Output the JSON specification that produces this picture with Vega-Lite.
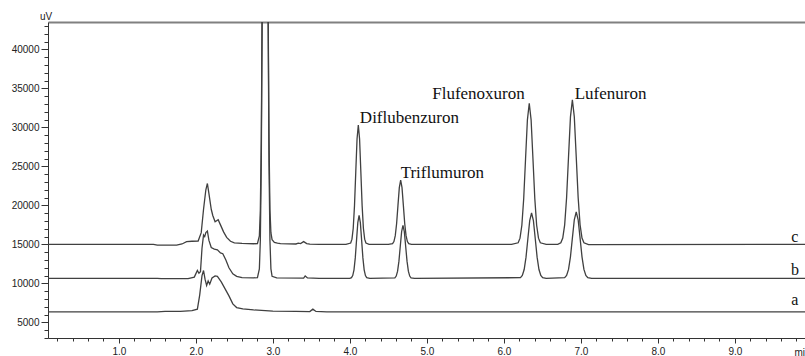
{
  "$schema": "https://vega.github.io/schema/vega-lite/v6.json",
  "autosize": {"type": "none"},
  "padding": {"left": 48, "top": 22, "right": 0, "bottom": 18},
  "width": 760,
  "height": 316,
  "background": "white",
  "config": {
    "view": {"stroke": null},
    "axis": {"labelFont": "Liberation Sans", "titleFont": "Liberation Sans", "domainColor": "#333", "tickColor": "#333", "labelColor": "#222", "titleColor": "#222", "grid": false, "titleFontWeight": "normal"}
  },
  "datasets": {
    "traces": [
      {"trace":"c","t":0.08,"v":15000},{"trace":"c","t":1.0,"v":15000},{"trace":"c","t":1.45,"v":14990},{"trace":"c","t":1.5,"v":14900},{"trace":"c","t":1.75,"v":14900},{"trace":"c","t":1.82,"v":15050},{"trace":"c","t":1.88,"v":15350},{"trace":"c","t":1.95,"v":15400},{"trace":"c","t":2.03,"v":15420},{"trace":"c","t":2.07,"v":16500},{"trace":"c","t":2.10,"v":19500},{"trace":"c","t":2.13,"v":22000},{"trace":"c","t":2.15,"v":22800},{"trace":"c","t":2.17,"v":21500},{"trace":"c","t":2.20,"v":19500},{"trace":"c","t":2.22,"v":18700},{"trace":"c","t":2.25,"v":17900},{"trace":"c","t":2.29,"v":18150},{"trace":"c","t":2.32,"v":17500},{"trace":"c","t":2.36,"v":16600},{"trace":"c","t":2.40,"v":15900},{"trace":"c","t":2.45,"v":15400},{"trace":"c","t":2.50,"v":15200},{"trace":"c","t":2.60,"v":15120},{"trace":"c","t":2.75,"v":15080},{"trace":"c","t":2.80,"v":15100},{"trace":"c","t":2.825,"v":16100},{"trace":"c","t":2.8375,"v":19400},{"trace":"c","t":2.85,"v":28500},{"trace":"c","t":2.8625,"v":47500},{"trace":"c","t":2.875,"v":75600},{"trace":"c","t":2.8875,"v":103000},{"trace":"c","t":2.90,"v":115000},{"trace":"c","t":2.9125,"v":103000},{"trace":"c","t":2.925,"v":75600},{"trace":"c","t":2.9375,"v":47500},{"trace":"c","t":2.95,"v":28500},{"trace":"c","t":2.9625,"v":19400},{"trace":"c","t":2.975,"v":16500},{"trace":"c","t":2.99,"v":15600},{"trace":"c","t":3.02,"v":15250},{"trace":"c","t":3.06,"v":15150},{"trace":"c","t":3.10,"v":15100},{"trace":"c","t":3.30,"v":15050},{"trace":"c","t":3.33,"v":15150},{"trace":"c","t":3.36,"v":15100},{"trace":"c","t":3.40,"v":15350},{"trace":"c","t":3.44,"v":15100},{"trace":"c","t":3.48,"v":15020},{"trace":"c","t":3.6,"v":15000},{"trace":"c","t":3.95,"v":15000},
      {"trace":"c","t":4.011,"v":15170},{"trace":"c","t":4.0275,"v":15672},{"trace":"c","t":4.044,"v":17070},{"trace":"c","t":4.0605,"v":19968},{"trace":"c","t":4.077,"v":24279},{"trace":"c","t":4.0935,"v":28502},{"trace":"c","t":4.11,"v":30300},{"trace":"c","t":4.1265,"v":28502},{"trace":"c","t":4.143,"v":24279},{"trace":"c","t":4.1595,"v":19968},{"trace":"c","t":4.176,"v":17070},{"trace":"c","t":4.1925,"v":15672},{"trace":"c","t":4.209,"v":15170},{"trace":"c","t":4.25,"v":15000},{"trace":"c","t":4.50,"v":15000},
      {"trace":"c","t":4.555,"v":15091},{"trace":"c","t":4.5725,"v":15361},{"trace":"c","t":4.59,"v":16114},{"trace":"c","t":4.6075,"v":17672},{"trace":"c","t":4.625,"v":19992},{"trace":"c","t":4.6425,"v":22263},{"trace":"c","t":4.66,"v":23230},{"trace":"c","t":4.6775,"v":22263},{"trace":"c","t":4.695,"v":19992},{"trace":"c","t":4.7125,"v":17672},{"trace":"c","t":4.73,"v":16114},{"trace":"c","t":4.7475,"v":15361},{"trace":"c","t":4.765,"v":15091},{"trace":"c","t":4.80,"v":15000},{"trace":"c","t":6.10,"v":15000},
      {"trace":"c","t":6.186,"v":15201},{"trace":"c","t":6.21,"v":15794},{"trace":"c","t":6.234,"v":17448},{"trace":"c","t":6.258,"v":20874},{"trace":"c","t":6.282,"v":25972},{"trace":"c","t":6.306,"v":30964},{"trace":"c","t":6.33,"v":33090},{"trace":"c","t":6.354,"v":30964},{"trace":"c","t":6.378,"v":25972},{"trace":"c","t":6.402,"v":20874},{"trace":"c","t":6.426,"v":17448},{"trace":"c","t":6.45,"v":15794},{"trace":"c","t":6.474,"v":15201},{"trace":"c","t":6.55,"v":15000},{"trace":"c","t":6.70,"v":15000},
      {"trace":"c","t":6.74,"v":15206},{"trace":"c","t":6.765,"v":15813},{"trace":"c","t":6.79,"v":17506},{"trace":"c","t":6.815,"v":21013},{"trace":"c","t":6.84,"v":26232},{"trace":"c","t":6.865,"v":31344},{"trace":"c","t":6.89,"v":33520},{"trace":"c","t":6.915,"v":31344},{"trace":"c","t":6.94,"v":26232},{"trace":"c","t":6.965,"v":21013},{"trace":"c","t":6.99,"v":17506},{"trace":"c","t":7.015,"v":15813},{"trace":"c","t":7.04,"v":15206},{"trace":"c","t":7.10,"v":14980},{"trace":"c","t":9.95,"v":15000},

      {"trace":"b","t":0.08,"v":10640},{"trace":"b","t":1.5,"v":10640},{"trace":"b","t":1.55,"v":10600},{"trace":"b","t":1.9,"v":10600},{"trace":"b","t":1.98,"v":10800},{"trace":"b","t":2.02,"v":11650},{"trace":"b","t":2.04,"v":11300},{"trace":"b","t":2.06,"v":11500},{"trace":"b","t":2.08,"v":14500},{"trace":"b","t":2.10,"v":16200},{"trace":"b","t":2.115,"v":16000},{"trace":"b","t":2.13,"v":16500},{"trace":"b","t":2.15,"v":16700},{"trace":"b","t":2.17,"v":15500},{"trace":"b","t":2.20,"v":14600},{"trace":"b","t":2.24,"v":14400},{"trace":"b","t":2.28,"v":14300},{"trace":"b","t":2.32,"v":13900},{"trace":"b","t":2.35,"v":13800},{"trace":"b","t":2.39,"v":13000},{"trace":"b","t":2.43,"v":12000},{"trace":"b","t":2.48,"v":11230},{"trace":"b","t":2.53,"v":10900},{"trace":"b","t":2.6,"v":10750},{"trace":"b","t":2.75,"v":10700},{"trace":"b","t":2.80,"v":10750},
      {"trace":"b","t":2.825,"v":11860},{"trace":"b","t":2.8375,"v":15470},{"trace":"b","t":2.85,"v":25520},{"trace":"b","t":2.8625,"v":46360},{"trace":"b","t":2.875,"v":77360},{"trace":"b","t":2.8875,"v":107700},{"trace":"b","t":2.90,"v":120640},{"trace":"b","t":2.9125,"v":107700},{"trace":"b","t":2.925,"v":77360},{"trace":"b","t":2.9375,"v":46360},{"trace":"b","t":2.95,"v":25520},{"trace":"b","t":2.9625,"v":15470},{"trace":"b","t":2.975,"v":11860},{"trace":"b","t":2.99,"v":10900},{"trace":"b","t":3.05,"v":10700},{"trace":"b","t":3.40,"v":10680},{"trace":"b","t":3.42,"v":10950},{"trace":"b","t":3.45,"v":10700},{"trace":"b","t":3.6,"v":10640},{"trace":"b","t":4.0,"v":10640},
      {"trace":"b","t":4.021,"v":10730},{"trace":"b","t":4.0375,"v":10995},{"trace":"b","t":4.054,"v":11735},{"trace":"b","t":4.0705,"v":13267},{"trace":"b","t":4.087,"v":15547},{"trace":"b","t":4.1035,"v":17779},{"trace":"b","t":4.12,"v":18730},{"trace":"b","t":4.1365,"v":17779},{"trace":"b","t":4.153,"v":15547},{"trace":"b","t":4.1695,"v":13267},{"trace":"b","t":4.186,"v":11735},{"trace":"b","t":4.2025,"v":10995},{"trace":"b","t":4.219,"v":10730},{"trace":"b","t":4.26,"v":10640},
      {"trace":"b","t":4.585,"v":10715},{"trace":"b","t":4.6025,"v":10939},{"trace":"b","t":4.62,"v":11560},{"trace":"b","t":4.6375,"v":12848},{"trace":"b","t":4.655,"v":14764},{"trace":"b","t":4.6725,"v":16641},{"trace":"b","t":4.69,"v":17440},{"trace":"b","t":4.7075,"v":16641},{"trace":"b","t":4.725,"v":14764},{"trace":"b","t":4.7425,"v":12848},{"trace":"b","t":4.76,"v":11560},{"trace":"b","t":4.7775,"v":10939},{"trace":"b","t":4.795,"v":10715},{"trace":"b","t":4.84,"v":10640},
      {"trace":"b","t":6.216,"v":10733},{"trace":"b","t":6.24,"v":11008},{"trace":"b","t":6.264,"v":11774},{"trace":"b","t":6.288,"v":13361},{"trace":"b","t":6.312,"v":15722},{"trace":"b","t":6.336,"v":18035},{"trace":"b","t":6.36,"v":19020},{"trace":"b","t":6.384,"v":18035},{"trace":"b","t":6.408,"v":15722},{"trace":"b","t":6.432,"v":13361},{"trace":"b","t":6.456,"v":11774},{"trace":"b","t":6.48,"v":11008},{"trace":"b","t":6.504,"v":10733},{"trace":"b","t":6.55,"v":10640},
      {"trace":"b","t":6.79,"v":10734},{"trace":"b","t":6.815,"v":11014},{"trace":"b","t":6.84,"v":11791},{"trace":"b","t":6.865,"v":13403},{"trace":"b","t":6.89,"v":15801},{"trace":"b","t":6.915,"v":18150},{"trace":"b","t":6.94,"v":19150},{"trace":"b","t":6.965,"v":18150},{"trace":"b","t":6.99,"v":15801},{"trace":"b","t":7.015,"v":13403},{"trace":"b","t":7.04,"v":11791},{"trace":"b","t":7.065,"v":11014},{"trace":"b","t":7.09,"v":10734},{"trace":"b","t":7.14,"v":10640},{"trace":"b","t":9.95,"v":10640},

      {"trace":"a","t":0.08,"v":6340},{"trace":"a","t":1.0,"v":6340},{"trace":"a","t":1.5,"v":6360},{"trace":"a","t":1.6,"v":6400},{"trace":"a","t":1.8,"v":6420},{"trace":"a","t":1.95,"v":6500},{"trace":"a","t":2.02,"v":6700},{"trace":"a","t":2.05,"v":8500},{"trace":"a","t":2.08,"v":11000},{"trace":"a","t":2.10,"v":11650},{"trace":"a","t":2.12,"v":10500},{"trace":"a","t":2.14,"v":9730},{"trace":"a","t":2.16,"v":10300},{"trace":"a","t":2.18,"v":9900},{"trace":"a","t":2.21,"v":10700},{"trace":"a","t":2.25,"v":10950},{"trace":"a","t":2.28,"v":10900},{"trace":"a","t":2.33,"v":10200},{"trace":"a","t":2.38,"v":9300},{"trace":"a","t":2.43,"v":8400},{"trace":"a","t":2.48,"v":7370},{"trace":"a","t":2.53,"v":6900},{"trace":"a","t":2.61,"v":6730},{"trace":"a","t":2.75,"v":6600},{"trace":"a","t":3.0,"v":6450},{"trace":"a","t":3.3,"v":6400},{"trace":"a","t":3.48,"v":6380},{"trace":"a","t":3.52,"v":6700},{"trace":"a","t":3.56,"v":6400},{"trace":"a","t":3.7,"v":6360},{"trace":"a","t":4.0,"v":6340},{"trace":"a","t":9.95,"v":6340}
    ],
    "peaks": [
      {"name":"Diflubenzuron","t":4.13,"v":31200},
      {"name":"Triflumuron","t":4.66,"v":24170},
      {"name":"Flufenoxuron","t":5.07,"v":34290},
      {"name":"Lufenuron","t":6.92,"v":34290}
    ],
    "traceLabels": [
      {"label":"c","t":9.78,"v":15940},
      {"label":"b","t":9.78,"v":11745},
      {"label":"a","t":9.78,"v":7890}
    ]
  },
  "layer": [
    {
      "data": {"name": "traces"},
      "mark": {"type": "line", "clip": true, "color": "#404040", "strokeWidth": 1.3},
      "encoding": {
        "x": {"field": "t", "type": "quantitative", "scale": {"domain": [0.08, 9.95], "nice": false, "zero": false},
          "axis": {"orient": "bottom", "values": [1,2,3,4,5,6,7,8,9], "format": ".1f", "tickSize": 5, "labelPadding": 3, "labelFontSize": 10,
            "title": "min", "titleAngle": 0, "titleX": 746, "titleY": 14, "titleAlign": "left", "titleBaseline": "middle", "titleFontSize": 10}},
        "y": {"field": "v", "type": "quantitative", "scale": {"domain": [3000, 43500], "nice": false, "zero": false},
          "axis": {"orient": "left", "values": [5000,10000,15000,20000,25000,30000,35000,40000], "format": "d", "tickSize": 7, "labelPadding": 2, "labelFontSize": 10,
            "title": "uV", "titleAngle": 0, "titleX": -2.5, "titleY": -6, "titleAlign": "center", "titleBaseline": "middle", "titleFontSize": 10}},
        "detail": {"field": "trace"}
      }
    },
    {
      "data": {"name": "peaks"},
      "mark": {"type": "text", "font": "Liberation Serif", "fontSize": 17, "align": "left", "baseline": "middle", "color": "#111"},
      "encoding": {
        "x": {"field": "t", "type": "quantitative",
          "axis": {"orient": "bottom", "values": [0.2,0.4,0.6,0.8,1.2,1.4,1.6,1.8,2.2,2.4,2.6,2.8,3.2,3.4,3.6,3.8,4.2,4.4,4.6,4.8,5.2,5.4,5.6,5.8,6.2,6.4,6.6,6.8,7.2,7.4,7.6,7.8,8.2,8.4,8.6,8.8,9.2,9.4,9.6,9.8], "tickSize": 3, "labels": false, "domain": false, "title": null}},
        "y": {"field": "v", "type": "quantitative",
          "axis": {"orient": "left", "values": [3000,4000,6000,7000,8000,9000,11000,12000,13000,14000,16000,17000,18000,19000,21000,22000,23000,24000,26000,27000,28000,29000,31000,32000,33000,34000,36000,37000,38000,39000,41000,42000,43000], "tickSize": 4, "labels": false, "domain": false, "title": null}},
        "text": {"field": "name"}
      }
    },
    {
      "data": {"name": "traceLabels"},
      "mark": {"type": "text", "font": "Liberation Serif", "fontSize": 16, "align": "center", "baseline": "middle", "color": "#111"},
      "encoding": {
        "x": {"field": "t", "type": "quantitative",
          "axis": {"orient": "top", "domain": true, "domainColor": "#808080", "domainWidth": 2, "ticks": false, "labels": false, "title": null}},
        "y": {"field": "v", "type": "quantitative", "axis": null},
        "text": {"field": "label"}
      }
    }
  ],
  "resolve": {"axis": {"x": "independent", "y": "independent"}}
}
